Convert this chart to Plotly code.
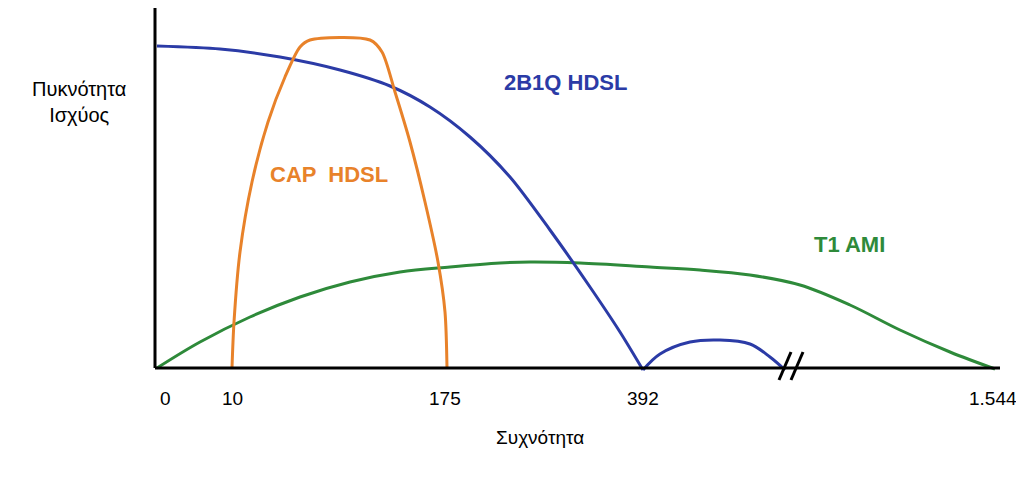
import plotly.graph_objects as go

# schematic coordinates: x in "position" units, y in relative power units
tick_pos = [10, 77, 290, 488, 838]
tick_text = ["0", "10", "175", "392", "1.544"]

blue_x = [2, 65, 125, 185, 235, 275, 315, 355, 395, 435, 465, 488]
blue_y = [322, 319, 311, 298, 282, 261, 231, 191, 138, 81, 36, -2]
bump_x = [488, 505, 535, 565, 595, 615, 630]
bump_y = [-2, 14, 26, 28, 24, 11, -2]

orange_x = [77, 79, 85, 97, 113, 130, 145, 155, 215, 227, 240, 255, 270, 283, 290, 292]
orange_y = [0, 46, 116, 186, 246, 291, 321, 328, 328, 316, 276, 226, 166, 106, 56, 0]

green_x = [2, 45, 95, 145, 195, 245, 295, 345, 375, 425, 495, 545, 595, 645, 695, 745, 795, 840]
green_y = [0, 26, 51, 71, 86, 96, 101, 105, 106, 105, 101, 98, 93, 83, 63, 38, 16, -1]

fig = go.Figure()
fig.add_trace(go.Scatter(x=green_x, y=green_y, mode="lines", line=dict(color="#2e8a3a", width=3, shape="spline", smoothing=1.0)))
fig.add_trace(go.Scatter(x=blue_x, y=blue_y, mode="lines", line=dict(color="#2b3ba6", width=3, shape="spline", smoothing=0.8)))
fig.add_trace(go.Scatter(x=bump_x, y=bump_y, mode="lines", line=dict(color="#2b3ba6", width=3, shape="spline")))
fig.add_trace(go.Scatter(x=orange_x, y=orange_y, mode="lines", line=dict(color="#e8822a", width=3, shape="spline", smoothing=0.8)))

# axes lines
fig.add_shape(type="line", x0=0, x1=845, y0=0, y1=0, line=dict(color="black", width=3))
fig.add_shape(type="line", x0=0, x1=0, y0=0, y1=380, line=dict(color="black", width=3))
# break marks
for dx in (0, 12):
    fig.add_shape(type="line", x0=624 + dx, x1=636 + dx, y0=-12, y1=16, line=dict(color="black", width=3))

font = "Arial, Liberation Sans, sans-serif"
for p, t in zip(tick_pos, tick_text):
    fig.add_annotation(x=p, y=-30, text=t, showarrow=False, font=dict(size=19))
fig.add_annotation(x=385, y=-69, text="Συχνότητα", showarrow=False, font=dict(size=19))
fig.add_annotation(x=410, y=286, text="<b>2B1Q HDSL</b>", showarrow=False, font=dict(color="#2b3ba6", size=22))
fig.add_annotation(x=174, y=194, text="<b>CAP  HDSL</b>", showarrow=False, font=dict(color="#e8822a", size=22))
fig.add_annotation(x=694, y=124, text="<b>T1 AMI</b>", showarrow=False, font=dict(color="#2e8a3a", size=22))
fig.add_annotation(xref="paper", yref="paper", x=-0.08, y=0.86, text="Πυκνότητα<br>Ισχύος",
                   showarrow=False, align="center", xanchor="center", font=dict(size=20))

fig.update_layout(
    width=1024, height=484, paper_bgcolor="white", plot_bgcolor="white",
    margin=dict(l=139, r=32, t=0, b=0), showlegend=False,
    font=dict(family=font, color="black", size=18),
    xaxis=dict(range=[-8, 845], showticklabels=False, showgrid=False, zeroline=False, showline=False),
    yaxis=dict(range=[-124, 360], showticklabels=False, showgrid=False, zeroline=False, showline=False),
)
fig.write_html("out.html")
